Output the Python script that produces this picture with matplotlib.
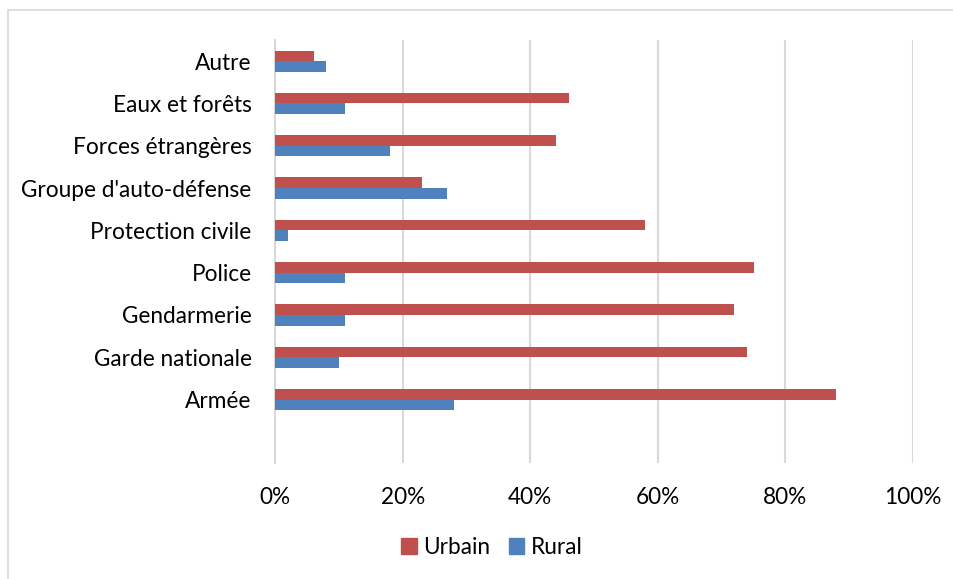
import matplotlib
matplotlib.use("Agg")
import matplotlib.pyplot as plt
from matplotlib.patches import Rectangle, Patch
from matplotlib.ticker import FuncFormatter
import numpy as np

# categories from bottom to top (as drawn)
categories = ["Armée", "Garde nationale", "Gendarmerie", "Police",
              "Protection civile", "Groupe d'auto-défense",
              "Forces étrangères", "Eaux et forêts", "Autre"]
urbain = [88, 74, 72, 75, 58, 23, 44, 46, 6]
rural = [28, 10, 11, 11, 2, 27, 18, 11, 8]
xticks = [0, 20, 40, 60, 80, 100]

red = "#C0504D"
blue = "#4F81BD"
grid_col = "#D9D9D9"
plt.rcParams['font.family'] = ['Lato', 'DejaVu Sans']
fs = 16.3

fig = plt.figure(figsize=(9.54, 5.79), dpi=100)
W, H = 954, 579
ax = fig.add_axes([275.3 / W, 1 - 463 / H, (913 - 275.3) / W, (463 - 40) / H])

# chart-area border (cropped on the right and bottom in the reference)
fig.patches.append(Rectangle((8 / W, -0.1), 1.2, 1 - 10 / H + 0.1,
                             transform=fig.transFigure, fill=False,
                             edgecolor=grid_col, linewidth=1.2))

y = np.arange(len(categories))
h = 0.25
ax.barh(y + h / 2, urbain, height=h, color=red, label="Urbain", zorder=3)
ax.barh(y - h / 2, rural, height=h, color=blue, label="Rural", zorder=3)

ax.set_xlim(0, 100)
ax.set_ylim(-1.5, len(categories) - 0.5)
ax.set_xticks(xticks)
ax.xaxis.set_major_formatter(FuncFormatter(lambda v, p: f"{v:.0f}%"))
ax.set_yticks(y)
ax.set_yticklabels(categories)
ax.tick_params(axis='both', length=0, labelsize=fs, colors='black')
ax.tick_params(axis='x', pad=17)
ax.tick_params(axis='y', pad=17)
ax.grid(axis='x', color=grid_col, linewidth=1.5, zorder=0)
for s in ["top", "right", "bottom"]:
    ax.spines[s].set_visible(False)
ax.spines["left"].set_color(grid_col)
ax.spines["left"].set_linewidth(1.5)

handles = [Patch(color=red), Patch(color=blue)]
fig.legend(handles, ["Urbain", "Rural"], loc="center",
           bbox_to_anchor=(492 / W, 1 - 547 / H), ncol=2, frameon=False,
           fontsize=fs, handlelength=0.7, handleheight=0.7,
           handletextpad=0.3, columnspacing=0.8)

fig.savefig("out.png", dpi=100)
